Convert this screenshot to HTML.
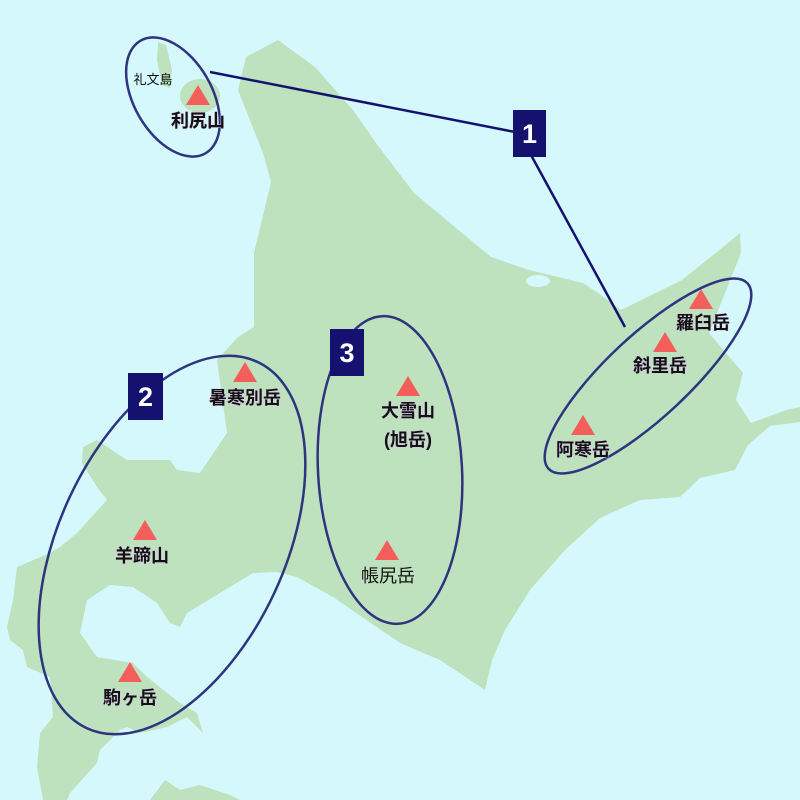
<!DOCTYPE html>
<html><head><meta charset="utf-8"><style>
html,body{margin:0;padding:0;background:#d5f8fc;}
svg{display:block;}
text{font-family:"Liberation Sans","Noto Sans CJK JP",sans-serif;fill:#111;}
.b{font-weight:bold;font-size:18px;paint-order:stroke;stroke:#d8c8e8;stroke-width:1px;}
</style></head><body>
<svg width="800" height="800" viewBox="0 0 800 800">
<rect width="800" height="800" fill="#d5f8fc"/>
<g fill="#bde2bd">
<polygon points="278,40 315,67 353,110 376,143 414,193 491,257 529,270 583,283 598,293 621,310 682,280 728,243 740,233 741,253 709,333 743,373 736,400 751,423 786,410 800,407 800,422 770,426 748,445 735,470 700,478 680,497 640,500 600,518 565,550 530,590 505,630 492,660 485,690 470,680 440,660 400,643 333,597 297,577 277,572 253,573 220,593 187,613 180,627 170,623 157,603 133,587 110,585 87,600 80,633 97,657 133,663 147,677 180,703 197,713 203,733 187,717 167,727 140,733 127,727 120,730 100,750 97,763 70,793 67,800 43,800 37,767 40,733 53,717 50,677 27,667 23,650 10,640 7,627 13,600 17,567 50,553 60,547 77,533 107,500 97,487 82,463 83,447 97,440 127,460 170,460 177,470 200,473 227,433 217,360 238,337 254,327 254,253 271,182 263,153 238,90 246,57"/>
<polygon points="150,800 165,780 180,790 200,785 230,795 240,800"/>
<polygon points="158,42 166,45 172,70 170,88 162,85 157,60"/>
<ellipse cx="200" cy="96" rx="20" ry="17"/>
</g>
<ellipse cx="538" cy="281" rx="12" ry="6" fill="#d5f8fc"/>
<g fill="none" stroke="#2e3480" stroke-width="2.5">
<ellipse cx="173" cy="97" rx="39" ry="65" transform="rotate(-30 173 97)"/>
<ellipse cx="648" cy="376" rx="41" ry="136" transform="rotate(47 648 376)"/>
<ellipse cx="172" cy="545" rx="113" ry="202" transform="rotate(25 172 545)"/>
<ellipse cx="390" cy="470" rx="72" ry="154" transform="rotate(-3 390 470)"/>
</g>
<g stroke="#14126e" stroke-width="2.5">
<line x1="210" y1="72" x2="515" y2="132"/>
<line x1="531" y1="155" x2="625" y2="327"/>
</g>
<g fill="#14126e">
<rect x="513" y="110" width="33" height="47"/>
<rect x="128" y="373" width="35" height="47"/>
<rect x="330" y="329" width="34" height="47"/>
</g>
<g font-family="Liberation Sans, sans-serif" font-size="27" font-weight="bold" text-anchor="middle">
<text x="529.5" y="143" style="fill:#fff">1</text>
<text x="145.5" y="406" style="fill:#fff">2</text>
<text x="347" y="362" style="fill:#fff">3</text>
</g>
<g fill="#f45e5b">
<polygon points="198,85 186,105 210,105"/>
<polygon points="245,362 233,382 257,382"/>
<polygon points="145,520 133,540 157,540"/>
<polygon points="130,662 118,682 142,682"/>
<polygon points="408,376 396,396 420,396"/>
<polygon points="387,540 375,560 399,560"/>
<polygon points="701,289 689,309 713,309"/>
<polygon points="665,332 653,352 677,352"/>
<polygon points="583,415 571,435 595,435"/>
</g>
<g text-anchor="middle">
<text x="153" y="84" font-size="13">礼文島</text>
<text class="b" x="198" y="127">利尻山</text>
<text class="b" x="245" y="404">暑寒別岳</text>
<text class="b" x="142" y="562">羊蹄山</text>
<text class="b" x="130" y="704">駒ヶ岳</text>
<text class="b" x="408" y="417">大雪山</text>
<text class="b" x="408" y="446">(旭岳)</text>
<text x="388" y="582" font-size="18">帳尻岳</text>
<text class="b" x="703" y="329">羅臼岳</text>
<text class="b" x="660" y="372">斜里岳</text>
<text class="b" x="583" y="456">阿寒岳</text>
</g>
</svg>
</body></html>
